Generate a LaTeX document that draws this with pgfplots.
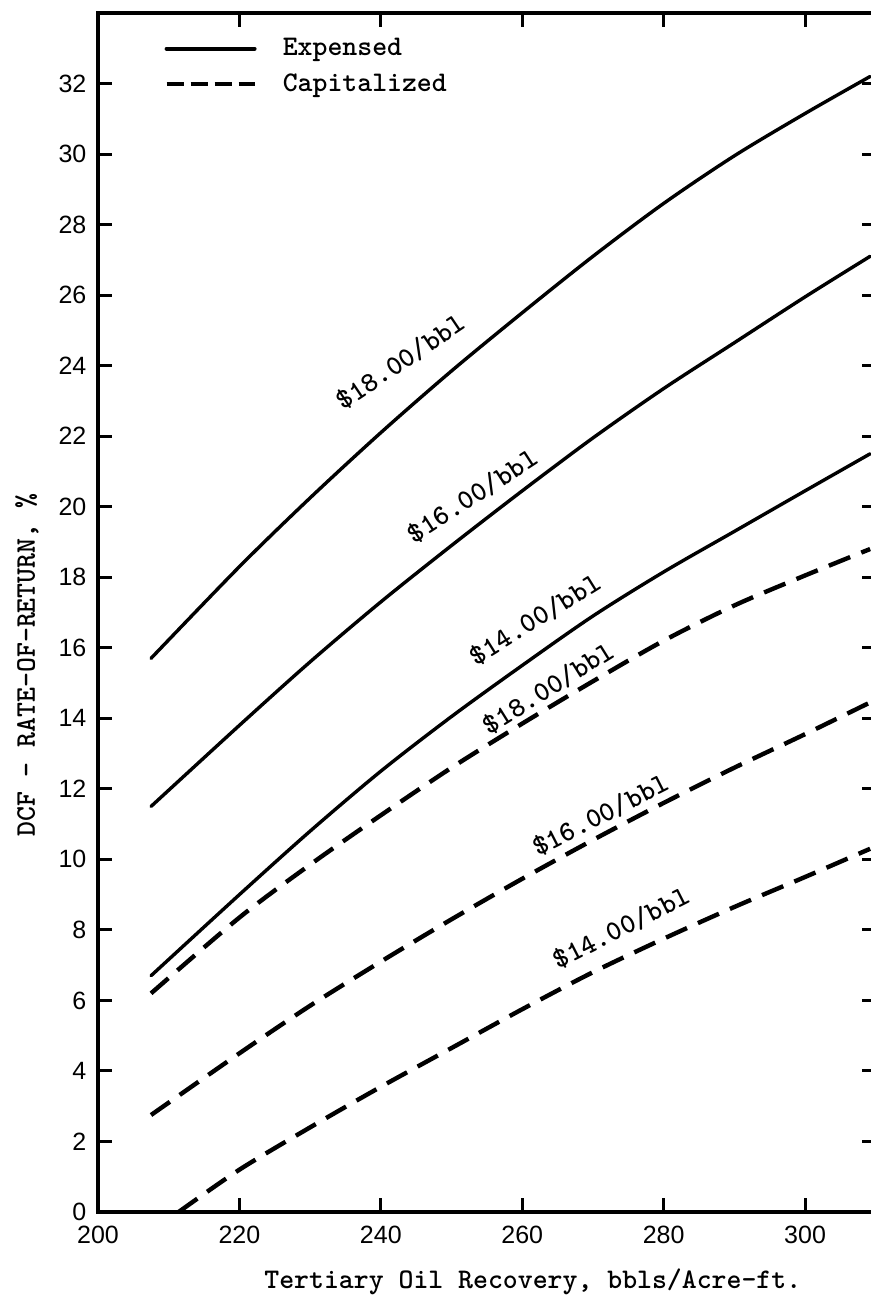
\documentclass[border=0pt]{standalone}
\usepackage{fontspec}
\usepackage{pgfplots}
\pgfplotsset{compat=1.18}
\newfontfamily\tickfont{Liberation Sans}
\newfontfamily\twfont{Latin Modern Mono Light}
\newcommand{\twsize}{\twfont\bfseries\fontsize{14.2}{16}\selectfont}
\begin{document}
\begin{tikzpicture}
\begin{axis}[
  scale only axis,
  width=388.9pt, height=599.5pt,
  xmin=200, xmax=310, ymin=0, ymax=34,
  xtick={200,220,...,300}, ytick={0,2,...,32},
  tick align=inside,
  major tick length=7pt,
  axis line style={line width=1.8pt},
  every tick/.style={line width=1.5pt, black},
  tick label style={font=\tickfont\fontsize{12.5}{14}\selectfont},
  /pgf/number format/assume math mode=true,
  yticklabel style={xshift=-2.3pt},
  xticklabel style={yshift=-3.5pt},
  xlabel={Tertiary Oil Recovery, bbls/Acre-ft.},
  ylabel={DCF - RATE-OF-RETURN, \%},
  label style={font=\twsize},
  x label style={at={(axis description cs:0.559,0)}, anchor=center, yshift=-35pt},
  y label style={at={(axis description cs:-0.0913,0.456)}, anchor=center},
  legend style={draw=none, fill=none, at={(axis description cs:0,1)}, anchor=north west,
    xshift=30pt, yshift=-8.5pt, font=\twsize, row sep=3.5pt,
    /tikz/every odd column/.append style={column sep=11pt}},
  legend cell align=left,
]
\addplot[black, line width=1.7pt, smooth, line cap=round,
  legend image code/.code={\draw[black, line width=2pt] (0pt,0pt) -- (44pt,0pt);}]
  coordinates {(207.5,15.7) (220,18.3) (230,20.25) (240,22.1) (250,23.85) (260,25.5) (270,27.1) (280,28.6) (290,29.95) (300,31.15) (309.2,32.2)};
\addlegendentry{Expensed}
\addplot[black, line width=1.7pt, smooth, line cap=round, forget plot]
  coordinates {(207.5,11.5) (220,13.8) (230,15.6) (240,17.3) (250,18.9) (260,20.45) (270,21.95) (280,23.35) (290,24.65) (300,25.95) (309.2,27.1)};
\addplot[black, line width=1.7pt, smooth, line cap=round, forget plot]
  coordinates {(207.5,6.7) (220,9.0) (230,10.8) (240,12.5) (250,14.05) (260,15.5) (270,16.9) (280,18.15) (290,19.3) (300,20.45) (309.2,21.5)};
\addplot[black, line width=2.2pt, smooth, dash pattern=on 11.5pt off 6pt,
  legend image code/.code={\draw[black, line width=2.2pt, dash pattern=on 8.5pt off 3.5pt] (0pt,0pt) -- (44pt,0pt);}]
  coordinates {(207.5,6.2) (220,8.35) (230,9.85) (240,11.25) (250,12.6) (260,13.85) (270,15.05) (280,16.2) (290,17.2) (300,18.05) (309.2,18.8)};
\addlegendentry{Capitalized}
\addplot[black, line width=2.2pt, smooth, dash pattern=on 11.5pt off 6pt, forget plot]
  coordinates {(207.5,2.75) (220,4.5) (230,5.85) (240,7.1) (250,8.3) (260,9.45) (270,10.55) (280,11.6) (290,12.6) (300,13.55) (309.2,14.45)};
\addplot[black, line width=2.2pt, smooth, dash pattern=on 11.5pt off 6pt, forget plot]
  coordinates {(211.4,0) (220,1.2) (230,2.4) (240,3.55) (250,4.65) (260,5.75) (270,6.8) (280,7.75) (290,8.65) (300,9.5) (309.2,10.3)};
\node[rotate=34, font=\twsize] at (axis cs:242.8,24.1) {\$18.00/bbl};
\node[rotate=33, font=\twsize] at (axis cs:253.0,20.3) {\$16.00/bbl};
\node[rotate=32, font=\twsize] at (axis cs:261.8,16.8) {\$14.00/bbl};
\node[rotate=32, font=\twsize] at (axis cs:263.7,14.85) {\$18.00/bbl};
\node[rotate=27, font=\twsize] at (axis cs:271.1,11.25) {\$16.00/bbl};
\node[rotate=27, font=\twsize] at (axis cs:274.0,8.05) {\$14.00/bbl};
\end{axis}
\pgfresetboundingbox
\path[use as bounding box] ([xshift=-49pt,yshift=-42pt]current axis.south west) rectangle ([xshift=-2.85pt,yshift=6.5pt]current axis.north east);
\end{tikzpicture}
\end{document}
